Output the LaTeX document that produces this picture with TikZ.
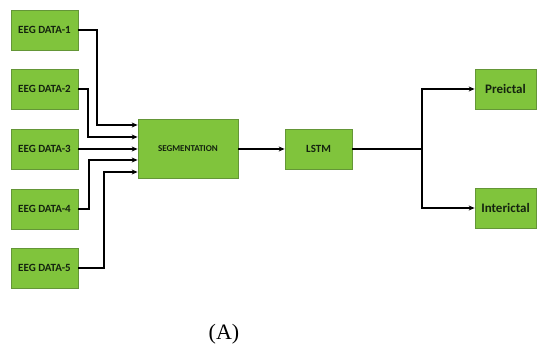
\documentclass[tikz,border=0pt]{standalone}
\usepackage{fontspec}
\setmainfont{Liberation Serif}
\newfontfamily\boxfont{Carlito}
\usetikzlibrary{arrows.meta}
\definecolor{boxgreen}{RGB}{128,196,60}
\definecolor{boxedge}{RGB}{100,150,55}
\definecolor{boxtext}{RGB}{20,35,15}
\tikzset{
  gbox/.style={draw=boxedge, line width=0.8pt, fill=boxgreen, inner sep=0pt, font=\boxfont\bfseries\fontsize{11}{13}\selectfont, text=boxtext},
  conn/.style={line width=1.6pt, -{Stealth[length=6pt,width=5pt]}},
  seg/.style={line width=1.6pt}
}
\begin{document}
\begin{tikzpicture}[x=1pt,y=-1pt]
\useasboundingbox (0,0) rectangle (537,352);
% inputs
\node[gbox, minimum width=67pt, minimum height=40pt] (d1) at (44.5,30) {EEG DATA-1};
\node[gbox, minimum width=67pt, minimum height=40pt] (d2) at (44.5,89) {EEG DATA-2};
\node[gbox, minimum width=67pt, minimum height=40pt] (d3) at (44.5,149) {EEG DATA-3};
\node[gbox, minimum width=67pt, minimum height=40pt] (d4) at (44.5,209) {EEG DATA-4};
\node[gbox, minimum width=67pt, minimum height=40pt] (d5) at (44.5,268) {EEG DATA-5};
\node[gbox, minimum width=100pt, minimum height=59pt, font=\boxfont\bfseries\fontsize{9}{11}\selectfont] (seg) at (188,148.5) {SEGMENTATION};
\node[gbox, minimum width=67pt, minimum height=40pt, font=\boxfont\bfseries\fontsize{11}{13}\selectfont] (lstm) at (318.5,149) {LSTM};
\node[gbox, minimum width=61pt, minimum height=40pt, font=\boxfont\bfseries\fontsize{13}{15}\selectfont] (pre) at (505.5,89) {Preictal};
\node[gbox, minimum width=61pt, minimum height=40pt, font=\boxfont\bfseries\fontsize{13}{15}\selectfont] (inter) at (505.5,208) {Interictal};
\node[font=\fontsize{22}{26}\selectfont] (cap) at (224,334) {(A)};
% coordinates
\coordinate (j1) at (97,30);
\coordinate (j2) at (88,89);
\coordinate (j4) at (89,209);
\coordinate (j5) at (104,268);
\coordinate (br) at (422,149);
% connectors
\draw[conn] (d1.east) -- (j1) |- ([yshift=23.5pt]seg.west);
\draw[conn] (d2.east) -- (j2) |- ([yshift=11.5pt]seg.west);
\draw[conn] (d3.east) -- (seg.west |- d3.east);
\draw[conn] (d4.east) -- (j4) |- ([yshift=-11.5pt]seg.west);
\draw[conn] (d5.east) -- (j5) |- ([yshift=-23.5pt]seg.west);
\draw[conn] (seg.east |- lstm.west) -- (lstm.west);
\draw[seg] (lstm.east) -- (br);
\draw[conn] (br) |- (pre.west);
\draw[conn] (br) |- (inter.west);
\end{tikzpicture}
\end{document}
